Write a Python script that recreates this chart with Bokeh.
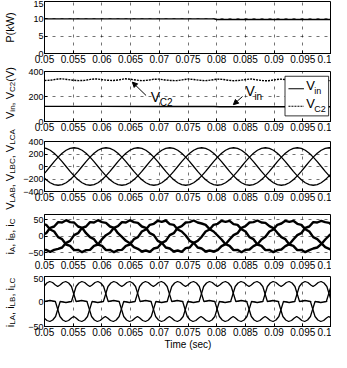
import math
from bokeh.plotting import figure
from bokeh.layouts import column, row
from bokeh.models import FixedTicker, Label, Arrow, NormalHead, Range1d
from bokeh.core.properties import value
from bokeh.embed import file_html
from bokeh.resources import INLINE

FONT = "Liberation Sans"

# ---------------- data ----------------
x_ticks = [0.05, 0.055, 0.06, 0.065, 0.07, 0.075, 0.08, 0.085, 0.09, 0.095, 0.1]
x_tick_labels = ["0.05", "0.055", "0.06", "0.065", "0.07", "0.075", "0.08", "0.085", "0.09", "0.095", "0.1"]

# panel 1: power (kW)
p_t = [0.05, 0.0795, 0.0800, 0.1]
p_kw = [10.0, 10.0, 9.8, 9.8]

# panel 2: Vin and VC2 (V)
vin_t = [0.05, 0.06, 0.07, 0.0795, 0.0805, 0.09, 0.1]
vin = [121, 121, 120, 120, 118, 118, 118]
vc2_t_ms = list(range(50, 101))
vc2 = [328, 330, 338, 342, 336, 330, 327, 329, 337, 341, 335, 330, 328, 333, 342, 338, 331,
       327, 330, 338, 339, 332, 328, 327, 333, 340, 336, 330, 327, 331, 339, 337, 330, 326,
       329, 336, 340, 333, 327, 326, 333, 339, 336, 329, 326, 330, 337, 340, 333, 328, 327]

# panels 3 and 4: sampling instants (s)
t_grid = [0.049600, 0.050294, 0.050989, 0.051683, 0.052378, 0.053072, 0.053767, 0.054461,
          0.055156, 0.055850, 0.056544, 0.057239, 0.057933, 0.058628, 0.059322, 0.060017,
          0.060711, 0.061406, 0.062100, 0.062794, 0.063489, 0.064183, 0.064878, 0.065572,
          0.066267, 0.066961, 0.067656, 0.068350, 0.069044, 0.069739, 0.070433, 0.071128,
          0.071822, 0.072517, 0.073211, 0.073906, 0.074600, 0.075294, 0.075989, 0.076683,
          0.077378, 0.078072, 0.078767, 0.079461, 0.080156, 0.080850, 0.081544, 0.082239,
          0.082933, 0.083628, 0.084322, 0.085017, 0.085711, 0.086406, 0.087100, 0.087794,
          0.088489, 0.089183, 0.089878, 0.090572, 0.091267, 0.091961, 0.092656, 0.093350,
          0.094044, 0.094739, 0.095433, 0.096128, 0.096822, 0.097517, 0.098211, 0.098906,
          0.099600, 0.100294]

v_lab = [300, 290, 260, 212, 150, 78, 0, -78, -150, -212, -260, -290, -300, -290, -260, -212, -150, -78, 0, 78, 150, 212, 260, 290,
         300, 290, 260, 212, 150, 78, 0, -78, -150, -212, -260, -290, -300, -290, -260, -212, -150, -78, 0, 78, 150, 212, 260, 290,
         300, 290, 260, 212, 150, 78, 0, -78, -150, -212, -260, -290, -300, -290, -260, -212, -150, -78, 0, 78, 150, 212, 260, 290,
         300, 290]
v_lbc = [-150, -78, 0, 78, 150, 212, 260, 290, 300, 290, 260, 212, 150, 78, 0, -78, -150, -212, -260, -290, -300, -290, -260, -212,
         -150, -78, 0, 78, 150, 212, 260, 290, 300, 290, 260, 212, 150, 78, 0, -78, -150, -212, -260, -290, -300, -290, -260, -212,
         -150, -78, 0, 78, 150, 212, 260, 290, 300, 290, 260, 212, 150, 78, 0, -78, -150, -212, -260, -290, -300, -290, -260, -212,
         -150, -78]
v_lca = [-150, -212, -260, -290, -300, -290, -260, -212, -150, -78, 0, 78, 150, 212, 260, 290, 300, 290, 260, 212, 150, 78, 0, -78,
         -150, -212, -260, -290, -300, -290, -260, -212, -150, -78, 0, 78, 150, 212, 260, 290, 300, 290, 260, 212, 150, 78, 0, -78,
         -150, -212, -260, -290, -300, -290, -260, -212, -150, -78, 0, 78, 150, 212, 260, 290, 300, 290, 260, 212, 150, 78, 0, -78,
         -150, -212]

i_a = [37, 34, 20, 14, -3, -9, -25, -29, -42, -41, -48, -42, -41, -29, -25, -9, 3, 10, 25, 30,
       42, 41, 48, 42, 40, 29, 25, 9, 3, -14, -20, -34, -37, -46, -43, -47, -36, -34, -20, -14, -2, 14, 20, 34,
       37, 46, 43, 46, 36, 34, 21, 14, -3, -9, -25, -29, -42, -41, -48, -42, -40, -30, -24, -10, 3, 9, 25, 29,
       42, 41, 46, 42, 40, 30]
i_b = [3, 9, 25, 29, 42, 41, 48, 42, 41, 29, 25, 9, -3, -9, -25, -29, -42, -41, -48, -42,
       -41, -29, -25, -9, -3, 14, 20, 34, 37, 46, 43, 47, 36, 34, 20, 14, 2, -14, -20, -34, -37, -46, -43, -46,
       -42, -30, -24, -10, 3, 9, 25, 30, 41, 42, 47, 41, 40, 30, 24, 10, -3, -9, -25, -29, -42, -41, -48, -42,
       -37, -34, -24, -10, 2, 12]
i_c = [-42, -41, -47, -41, -38, -34, -20, -14, 3, 9, 25, 29, 42, 41, 48, 42, 40, 29, 25, 9,
       -2, -14, -21, -33, -38, -46, -43, -47, -37, -34, -20, -14, 3, 9, 25, 30, 41, 42, 47, 41, 38, 34, 21, 14,
       2, -10, -24, -29, -42, -41, -48, -41, -40, -30, -24, -10, -2, 14, 20, 34, 38, 46, 43, 46, 37, 34, 21, 14,
       -3, -9, -21, -33, -38, -45]

# panel 5: load currents (time in ms, current in A)
il_a_t_ms = [49.13, 49.53, 49.93, 50.43, 50.93, 51.43, 51.93, 52.73, 53.73,
             54.7, 55.5, 56.0, 56.5, 57.0, 57.5, 57.9, 58.3, 58.8, 59.3, 59.8, 60.3, 61.1, 62.05, 63.0,
             63.8, 64.3, 64.8, 65.3, 65.8, 66.2, 66.6, 67.1, 67.6, 68.1, 68.6, 69.4, 70.4,
             71.37, 72.17, 72.67, 73.17, 73.67, 74.17, 74.57, 74.97, 75.47, 75.97, 76.47, 76.97, 77.77, 78.72, 79.67,
             80.47, 80.97, 81.47, 81.97, 82.47, 82.87, 83.27, 83.77, 84.27, 84.77, 85.27, 86.07, 87.07,
             88.03, 88.83, 89.33, 89.83, 90.33, 90.83, 91.23, 91.63, 92.13, 92.63, 93.13, 93.63, 94.43, 95.38, 96.33,
             97.13, 97.63, 98.13, 98.63, 99.13, 99.53, 99.93, 100.43]
il_a = [-33, -30, -33, -38, -40, -37, -30, 0, -2,
        0, 30, 37, 40, 38, 33, 30, 33, 38, 40, 37, 30, 0, 2, 0,
        -30, -37, -40, -38, -33, -30, -33, -38, -40, -37, -30, 0, -2,
        0, 30, 37, 40, 38, 33, 30, 33, 38, 40, 37, 30, 0, 2, 0,
        -30, -37, -40, -38, -33, -30, -33, -38, -40, -37, -30, 0, -2,
        0, 30, 37, 40, 38, 33, 30, 33, 38, 40, 37, 30, 0, 2, 0,
        -30, -37, -40, -38, -33, -30, -33, -38]
il_b_t_ms = [49.19, 49.99, 50.94, 51.89, 52.69, 53.19, 53.69, 54.19, 54.69, 55.09, 55.49, 55.99, 56.49, 56.99, 57.49, 58.29, 59.29,
             60.26, 61.06, 61.56, 62.06, 62.56, 63.06, 63.46, 63.86, 64.36, 64.86, 65.36, 65.86, 66.66, 67.61, 68.56,
             69.36, 69.86, 70.36, 70.86, 71.36, 71.76, 72.16, 72.66, 73.16, 73.66, 74.16, 74.96, 75.96,
             76.93, 77.73, 78.23, 78.73, 79.23, 79.73, 80.13, 80.53, 81.03, 81.53, 82.03, 82.53, 83.33, 84.28, 85.23,
             86.03, 86.53, 87.03, 87.53, 88.03, 88.43, 88.83, 89.33, 89.83, 90.33, 90.83, 91.63, 92.63,
             93.59, 94.39, 94.89, 95.39, 95.89, 96.39, 96.79, 97.19, 97.69, 98.19, 98.69, 99.19, 99.99, 100.94]
il_b = [30, 0, 2, 0, -30, -37, -40, -38, -33, -30, -33, -38, -40, -37, -30, 0, -2,
        0, 30, 37, 40, 38, 33, 30, 33, 38, 40, 37, 30, 0, 2, 0,
        -30, -37, -40, -38, -33, -30, -33, -38, -40, -37, -30, 0, -2,
        0, 30, 37, 40, 38, 33, 30, 33, 38, 40, 37, 30, 0, 2, 0,
        -30, -37, -40, -38, -33, -30, -33, -38, -40, -37, -30, 0, -2,
        0, 30, 37, 40, 38, 33, 30, 33, 38, 40, 37, 30, 0, 2]
il_c_t_ms = [48.13, 49.1, 49.9, 50.4, 50.9, 51.4, 51.9, 52.3, 52.7, 53.2, 53.7, 54.2, 54.7, 55.5, 56.45, 57.4,
             58.2, 58.7, 59.2, 59.7, 60.2, 60.6, 61.0, 61.5, 62.0, 62.5, 63.0, 63.8, 64.8,
             65.77, 66.57, 67.07, 67.57, 68.07, 68.57, 68.97, 69.37, 69.87, 70.37, 70.87, 71.37, 72.17, 73.12, 74.07,
             74.87, 75.37, 75.87, 76.37, 76.87, 77.27, 77.67, 78.17, 78.67, 79.17, 79.67, 80.47, 81.47,
             82.43, 83.23, 83.73, 84.23, 84.73, 85.23, 85.63, 86.03, 86.53, 87.03, 87.53, 88.03, 88.83, 89.78, 90.73,
             91.53, 92.03, 92.53, 93.03, 93.53, 93.93, 94.33, 94.83, 95.33, 95.83, 96.33, 97.13, 98.13,
             99.1, 99.9, 100.4]
il_c = [-2,
        0, 30, 37, 40, 38, 33, 30, 33, 38, 40, 37, 30, 0, 2, 0,
        -30, -37, -40, -38, -33, -30, -33, -38, -40, -37, -30, 0, -2,
        0, 30, 37, 40, 38, 33, 30, 33, 38, 40, 37, 30, 0, 2, 0,
        -30, -37, -40, -38, -33, -30, -33, -38, -40, -37, -30, 0, -2,
        0, 30, 37, 40, 38, 33, 30, 33, 38, 40, 37, 30, 0, 2, 0,
        -30, -37, -40, -38, -33, -30, -33, -38, -40, -37, -30, 0, -2,
        0, 30, 37]

# y-axis labels: pieces (text, "m" = main, "s" = subscript) and vertical centre (px from top)
ylabels = [
    ([("P(kW)", "m")], 27),
    ([("V", "m"), ("in", "s"), (", V", "m"), ("C2", "s"), (" (V)", "m")], 91),
    ([("V", "m"), ("LAB", "s"), (", V", "m"), ("LBC", "s"), (", V", "m"), ("LCA", "s")], 169),
    ([("i", "m"), ("A", "s"), (", i", "m"), ("B", "s"), (", i", "m"), ("C", "s")], 236),
    ([("i", "m"), ("LA", "s"), (", i", "m"), ("LB", "s"), (", i", "m"), ("LC", "s")], 302),
]

# ---------------- layout constants ----------------
TOTAL_H = 352
STRIP_W = 20
W = 331 - STRIP_W
LEFT = 20
MAIN = 11   # y-label main letter size (px)
SUB = 8     # y-label subscript size (px)

# Arial / Liberation Sans advance widths (per 1000 em)
ADV = {"V": 667, "i": 222, "n": 556, "C": 722, "2": 556, ",": 278, " ": 278, "(": 333, ")": 333,
       "L": 556, "A": 667, "B": 667, "P": 667, "k": 500, "W": 944}


def text_w(s, size):
    return sum(ADV.get(ch, 556) for ch in s) * size / 1000.0


# strip holding the rotated y-axis labels (pixel data coordinates, y up)
strip = figure(width=STRIP_W, height=TOTAL_H, x_range=Range1d(0, STRIP_W), y_range=Range1d(0, TOTAL_H),
               output_backend="svg", toolbar_location=None, min_border=0,
               x_axis_location=None, y_axis_location=None)
strip.grid.visible = False
strip.outline_line_color = None
strip.background_fill_color = "white"
strip.border_fill_color = "white"
main_x, main_y, main_t, sub_x, sub_y, sub_t = [], [], [], [], [], []
for pieces, cy in ylabels:
    total = sum(text_w(t, MAIN if k == "m" else SUB) for t, k in pieces)
    y = (TOTAL_H - cy) - total / 2.0
    for t, k in pieces:
        if k == "m":
            main_x.append(9.0); main_y.append(y); main_t.append(t)
            y += text_w(t, MAIN)
        else:
            sub_x.append(12.0); sub_y.append(y); sub_t.append(t)
            y += text_w(t, SUB)
strip.text(x=main_x, y=main_y, text=main_t, angle=math.pi / 2, text_align="left",
           text_baseline="alphabetic", text_font=value(FONT), text_font_size=value(f"{MAIN}px"),
           text_color="black")
strip.text(x=sub_x, y=sub_y, text=sub_t, angle=math.pi / 2, text_align="left",
           text_baseline="alphabetic", text_font=value(FONT), text_font_size=value(f"{SUB}px"),
           text_color="black")


def make_fig(height, y0, y1, yticks, btop, bbot):
    p = figure(width=W, height=height, x_range=Range1d(0.05, 0.1), y_range=Range1d(y0, y1),
               output_backend="svg", toolbar_location=None,
               min_border_left=LEFT, min_border_right=0, min_border_top=btop, min_border_bottom=bbot)
    p.outline_line_color = "black"
    p.outline_line_width = 1
    p.background_fill_color = "white"
    p.border_fill_color = "white"
    p.xaxis.ticker = FixedTicker(ticks=x_ticks)
    p.xaxis.major_label_overrides = {t: s for t, s in zip(x_ticks, x_tick_labels)}
    p.yaxis.ticker = FixedTicker(ticks=yticks)
    for ax in (p.xaxis[0], p.yaxis[0]):
        ax.axis_line_color = "black"
        ax.major_tick_line_color = "black"
        ax.major_tick_in = 3
        ax.major_tick_out = 0
        ax.minor_tick_line_color = None
        ax.major_label_text_font = FONT
        ax.major_label_text_font_size = "10px"
        ax.major_label_text_color = "black"
        ax.major_label_standoff = 1
        ax.axis_label_text_font = FONT
        ax.axis_label_text_font_size = "10px"
        ax.axis_label_text_font_style = "normal"
        ax.axis_label_text_color = "black"
        ax.axis_label_standoff = 0
    p.yaxis.major_label_text_font_size = "9px"
    for g in (p.xgrid[0], p.ygrid[0]):
        g.grid_line_color = "black"
        g.grid_line_alpha = 0.55
        g.grid_line_dash = "3 5"
        g.grid_line_width = 1
    return p


# panel 1
f1 = make_fig(68, 0, 15, [0, 5, 10, 15], 1, 15)
f1.line(p_t, p_kw, line_color="black", line_width=1.4)

# panel 2
f2 = make_fig(67, 0, 400, [0, 200, 400], 3, 14)
f2.line([t / 1000 for t in vc2_t_ms], vc2, line_color="black", line_width=1.4, line_dash="2 1")
f2.line(vin_t, vin, line_color="black", line_width=1.4)
f2.add_layout(Arrow(end=NormalHead(size=5, fill_color="black", line_color="black"),
                    x_start=0.0677, y_start=208, x_end=0.0653, y_end=315, line_width=1))
f2.add_layout(Arrow(end=NormalHead(size=5, fill_color="black", line_color="black"),
                    x_start=0.0845, y_start=200, x_end=0.0829, y_end=135, line_width=1))
for (xx, yy, txt, sub) in [(0.0685, 130, "V", "C2"), (0.0850, 180, "V", "in")]:
    f2.add_layout(Label(x=xx, y=yy, text=txt, text_font=FONT, text_font_size="14px", text_color="black"))
    f2.add_layout(Label(x=xx, y=yy, x_offset=9, y_offset=-3, text=sub, text_font=FONT,
                        text_font_size="10px", text_color="black"))
# legend box
f2.quad(left=[0.0919], right=[0.0995], bottom=[45], top=[362], fill_color="white",
        line_color="black", line_width=0.8)
f2.line([0.0925, 0.0952], [262, 262], line_color="black", line_width=1.2)
f2.line([0.0925, 0.0952], [122, 122], line_color="black", line_width=1.2, line_dash="2 1")
for (yy, sub) in [(228, "in"), (88, "C2")]:
    f2.add_layout(Label(x=0.0956, y=yy, text="V", text_font=FONT, text_font_size="13px", text_color="black"))
    f2.add_layout(Label(x=0.0956, y=yy, x_offset=8, y_offset=-3, text=sub, text_font=FONT,
                        text_font_size="9px", text_color="black"))

# panel 3
f3 = make_fig(75, -400, 400, [-400, -200, 0, 200, 400], 6, 19)
for v in (v_lab, v_lbc, v_lca):
    f3.line(t_grid, v, line_color="black", line_width=1.3)

# panel 4
f4 = make_fig(65, -70, 65, [-50, 0, 50], 4, 16)
for i in (i_a, i_b, i_c):
    f4.line(t_grid, i, line_color="black", line_width=2.4)

# panel 5
f5 = make_fig(77, -50, 50, [-50, 0, 50], 1, 23)
f5.xaxis.axis_label = "Time (sec)"
for tt, ii in ((il_a_t_ms, il_a), (il_b_t_ms, il_b), (il_c_t_ms, il_c)):
    f5.line([t / 1000 for t in tt], ii, line_color="black", line_width=1.3)

layout = row(strip, column(f1, f2, f3, f4, f5, spacing=0), spacing=0)
open("out.html", "w").write(file_html(layout, INLINE))
